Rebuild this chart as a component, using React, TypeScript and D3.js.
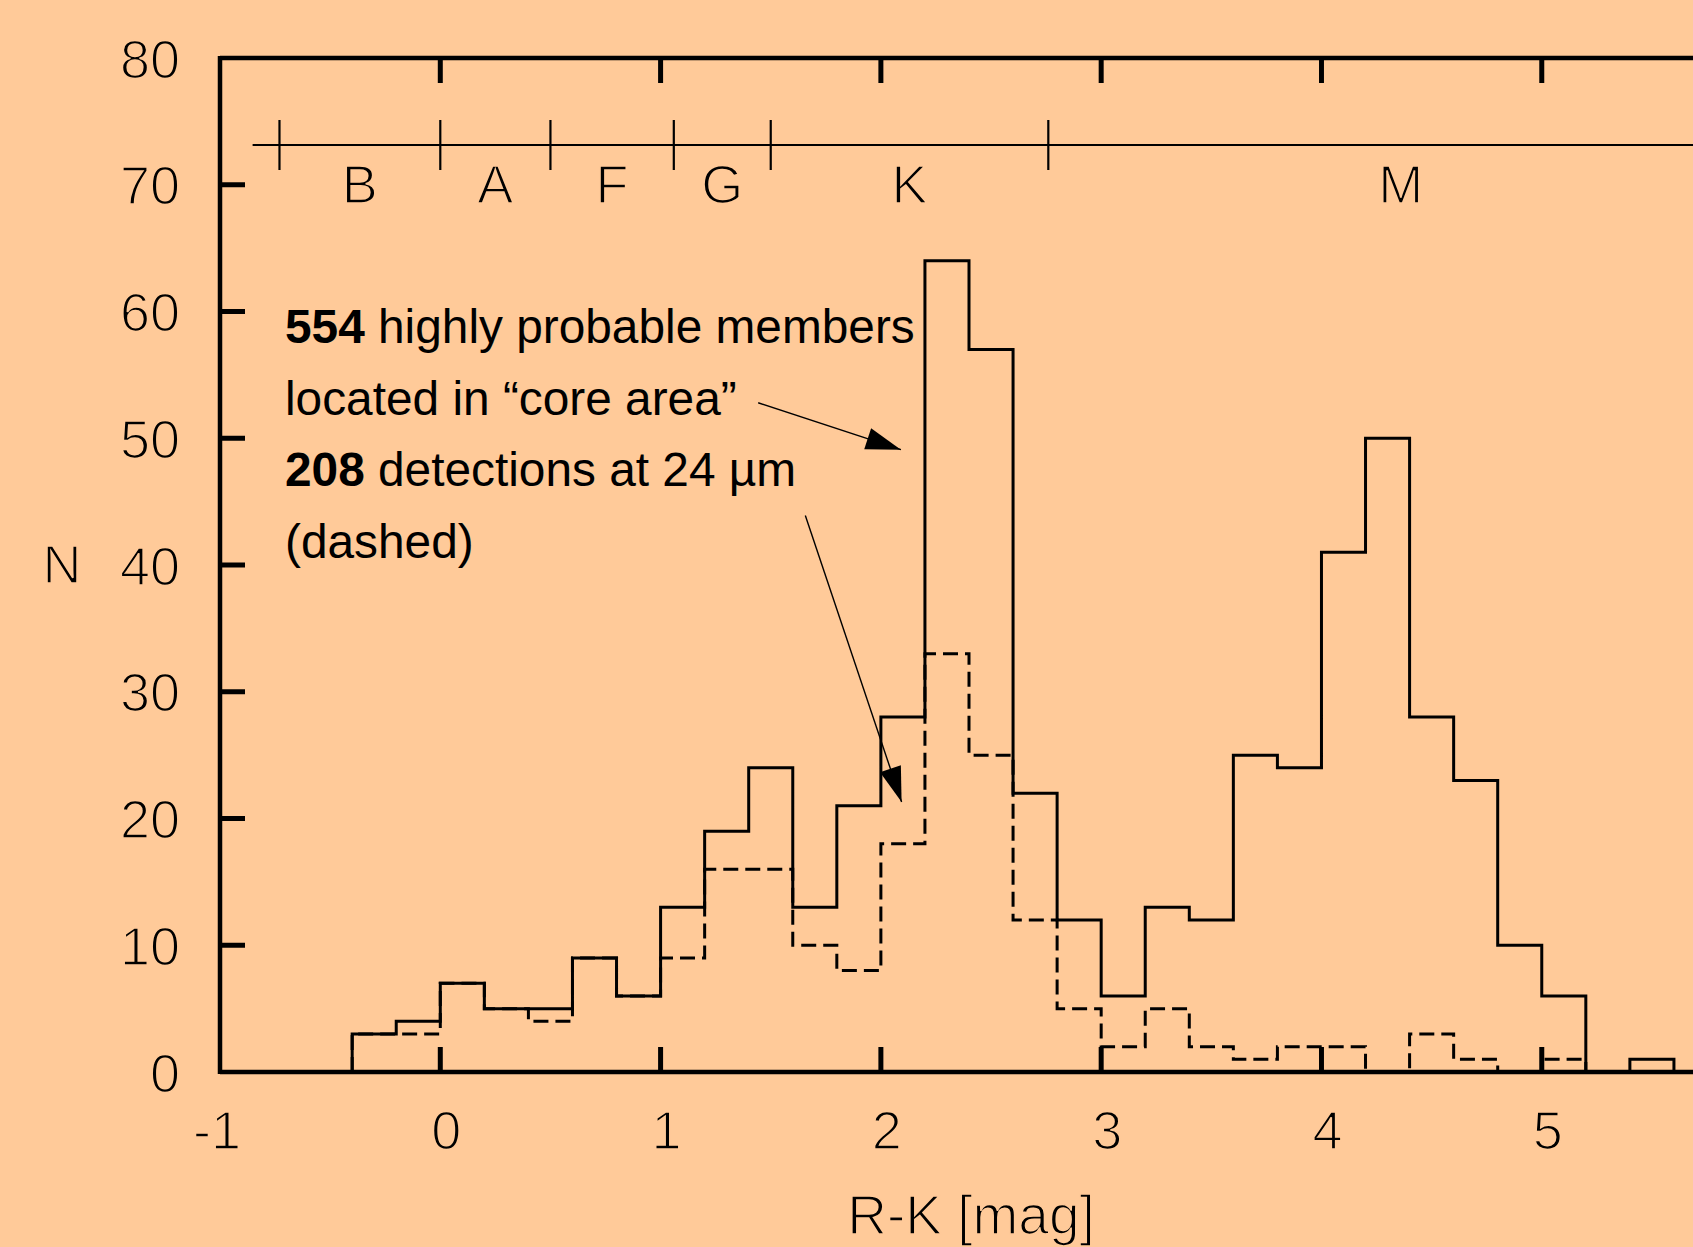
import * as d3 from "d3";

// R-K colour histogram: all highly probable members (solid) and 24 um detections (dashed)
const rkBins = [
    -0.4, -0.2, 0, 0.2, 0.4, 0.6, 0.8, 1.0, 1.2, 1.4,
    1.6, 1.8, 2.0, 2.2, 2.4, 2.6, 2.8, 3.0, 3.2, 3.4,
    3.6, 3.8, 4.0, 4.2, 4.4, 4.6, 4.8, 5.0, 5.2, 5.4,
];
const binWidth = 0.2;
const allMembers = [
    3, 4, 7, 5, 5, 9, 6, 13, 19, 24,
    13, 21, 28, 64, 57, 22, 12, 6, 13, 12,
    25, 24, 41, 50, 28, 23, 10, 6, 0, 1,
];
const mipsDetections = [
    3, 3, 7, 5, 4, 9, 6, 9, 16, 16,
    10, 8, 18, 33, 25, 12, 5, 2, 5, 2,
    1, 2, 2, 0, 3, 1, 0, 1, 0, 0,
];

const xTicks = [-1, 0, 1, 2, 3, 4, 5];
const yTicks = [0, 10, 20, 30, 40, 50, 60, 70, 80];

const spectralTypes = ["B", "A", "F", "G", "K", "M"];
const spectralEdges = [-0.73, 0, 0.5, 1.06, 1.5, 2.76, 5.96];

const noteLines = [
    { bold: "554", rest: " highly probable members" },
    { bold: "", rest: "located in \u201Ccore area\u201D" },
    { bold: "208", rest: " detections at 24 \u00B5m" },
    { bold: "", rest: "(dashed)" },
];
// arrows in data coordinates [x0, y0, x1, y1]
const arrows = [
    [1.443, 52.8, 2.091, 49.1],
    [1.657, 43.9, 2.094, 21.3],
];

const W = 1693;
const H = 1247;
const bg = "#FFCA99";
const font = "'Liberation Sans', Arial, Helvetica, sans-serif";

const x = d3.scaleLinear().domain([-1, 5.8]).range([220, 1718]);
const y = d3.scaleLinear().domain([0, 80]).range([1072, 58]);

function stepPoints(counts: number[]) {
    const pts: [number, number][] = [[rkBins[0], 0]];
    counts.forEach((c, i) => {
        pts.push([rkBins[i], c]);
        pts.push([rkBins[i] + binWidth, c]);
    });
    pts.push([rkBins[rkBins.length - 1] + binWidth, 0]);
    return pts;
}

const line = d3.line<[number, number]>()
    .x(d => x(d[0]))
    .y(d => y(d[1]));

function arrowHead(x0: number, y0: number, x1: number, y1: number) {
    const len = Math.hypot(x1 - x0, y1 - y0);
    const ux = (x1 - x0) / len;
    const uy = (y1 - y0) / len;
    const L = 35, Wd = 11;
    const bx = x1 - ux * L, by = y1 - uy * L;
    return `M${x1},${y1}L${bx - uy * Wd},${by + ux * Wd}L${bx + uy * Wd},${by - ux * Wd}Z`;
}

// thin axis lettering: background stroke eats into the glyphs
const thin = { stroke: bg, strokeWidth: 1.7 };

export default function App() {
    const specY = 145;
    const tickLen = 25;
    const x0 = x.range()[0], x1 = x.range()[1];
    const yb = y(0), yt = y(80);

    return (
        <svg width={W} height={H} style={{ position: "absolute", left: 0, top: 0, background: bg }}
            fontFamily={font}>
            <rect x={0} y={0} width={W} height={H} fill={bg} />

            {/* histograms */}
            <path d={line(stepPoints(mipsDetections)) || ""} fill="none" stroke="#000"
                strokeWidth={3} strokeDasharray="15,7" />
            <path d={line(stepPoints(allMembers)) || ""} fill="none" stroke="#000" strokeWidth={3} />

            {/* frame */}
            <g stroke="#000" strokeWidth={4.5} fill="none">
                <line x1={x0} y1={yb} x2={x1} y2={yb} />
                <line x1={x0} y1={yt} x2={x1} y2={yt} />
                <line x1={x0} y1={yb + 2} x2={x0} y2={yt - 2} />
                <line x1={x1} y1={yb + 2} x2={x1} y2={yt - 2} />
            </g>
            <g stroke="#000" strokeWidth={5}>
                {xTicks.filter(t => t > -1).map(t => (
                    <g key={t}>
                        <line x1={x(t)} y1={yb} x2={x(t)} y2={yb - tickLen} />
                        <line x1={x(t)} y1={yt} x2={x(t)} y2={yt + tickLen} />
                    </g>
                ))}
                {yTicks.filter(t => t > 0 && t < 80).map(t => (
                    <g key={t}>
                        <line x1={x0} y1={y(t)} x2={x0 + tickLen} y2={y(t)} />
                        <line x1={x1} y1={y(t)} x2={x1 - tickLen} y2={y(t)} />
                    </g>
                ))}
            </g>

            {/* tick labels */}
            <g fontSize={54} fill="#000" {...thin}>
                {yTicks.map(t => (
                    <text key={t} x={180} y={y(t) + 19.5} textAnchor="end">{t}</text>
                ))}
                {xTicks.map(t => (
                    <text key={t} x={x(t) + 21} y={1149} textAnchor="end">{t}</text>
                ))}
                <text x={62} y={583} textAnchor="middle">N</text>
                <text x={971} y={1234} textAnchor="middle" fontSize={55}>R-K [mag]</text>
            </g>

            {/* spectral type bar */}
            <g stroke="#000" strokeWidth={2.2}>
                <line x1={x(-0.852)} y1={specY} x2={x(6.3)} y2={specY} />
                {spectralEdges.map(e => (
                    <line key={e} x1={x(e)} y1={specY - tickLen} x2={x(e)} y2={specY + tickLen} />
                ))}
            </g>
            <g fontSize={54} fill="#000" {...thin}>
                {spectralTypes.map((s, i) => (
                    <text key={s} x={x((spectralEdges[i] + spectralEdges[i + 1]) / 2)} y={203}
                        textAnchor="middle">{s}</text>
                ))}
            </g>

            {/* annotation */}
            <g fontSize={47.8} fill="#000">
                {noteLines.map((l, i) => (
                    <text key={i} x={285} y={343 + i * 71.7}>
                        {l.bold && <tspan fontWeight="bold">{l.bold}</tspan>}
                        <tspan>{l.rest}</tspan>
                    </text>
                ))}
            </g>
            {arrows.map((a, i) => {
                const [ax0, ay0, ax1, ay1] = [x(a[0]), y(a[1]), x(a[2]), y(a[3])];
                return (
                    <g key={i}>
                        <line x1={ax0} y1={ay0} x2={ax1} y2={ay1} stroke="#000" strokeWidth={1.4} />
                        <path d={arrowHead(ax0, ay0, ax1, ay1)} fill="#000" />
                    </g>
                );
            })}
        </svg>
    );
}
